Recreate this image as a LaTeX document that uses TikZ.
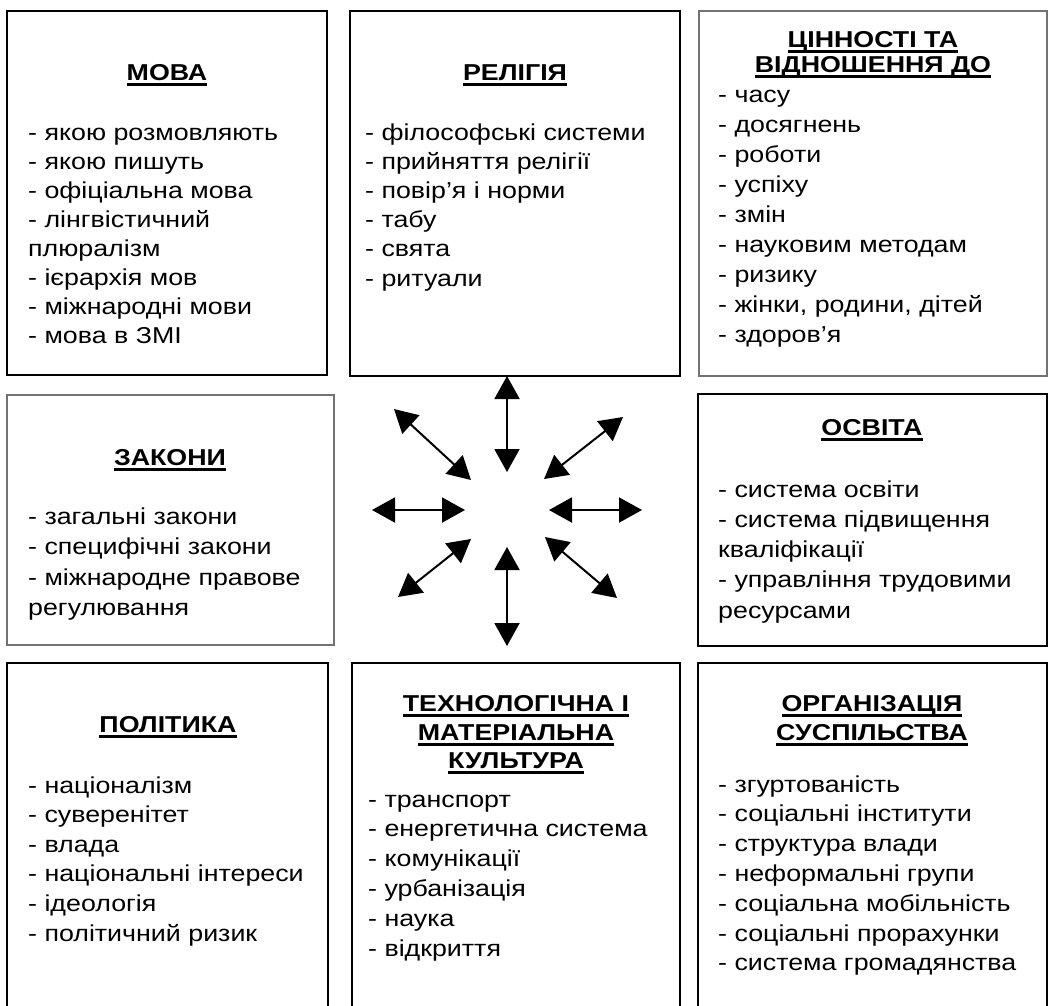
\documentclass[tikz,border=0pt]{standalone}
\usepackage{fontspec}
\setmainfont{Liberation Sans}[FakeStretch=1.165]
\usetikzlibrary{arrows.meta}

% underlined heading line
\newsavebox\hdbox
\newcommand\hdul[1]{\sbox\hdbox{#1}\rlap{\rule[-5.5pt]{\wd\hdbox}{2.2pt}}\usebox\hdbox}
% list of items: name, x, first baseline, line step, items
\newcommand\bodylist[5]{\foreach \itm [count=\i] in {#5} {\node[bodytext] (#1-\i) at (#2,{#3+#4*(\i-1)}) {\itm};}}

\begin{document}
\begin{tikzpicture}[x=1pt,y=-1pt,
  boxthick/.style={draw=black,line width=2.4pt,inner sep=0pt,outer sep=0pt,anchor=north west},
  boxthin/.style={draw=black!55,line width=1.1pt,inner sep=0pt,outer sep=0pt,anchor=north west},
  bodytext/.style={anchor=base west,inner sep=0pt,font=\fontsize{23}{28}\selectfont},
  headtext/.style={anchor=base,inner sep=0pt,font=\fontsize{23}{28}\selectfont\bfseries},
  dblarrow/.style={{Triangle[length=23pt,width=25pt]}-{Triangle[length=23pt,width=25pt]},line width=2pt}]
\clip (0,0) rectangle (1053,1005);
\fill[white] (0,0) rectangle (1053,1005);

% frames
\node[boxthick,minimum width=320pt,minimum height=364pt] (mova) at (7,11) {};
\node[boxthick,minimum width=330pt,minimum height=365pt] (rel) at (350,11) {};
\node[boxthin,minimum width=348pt,minimum height=365pt] (val) at (699,11) {};
\node[boxthin,minimum width=327pt,minimum height=250pt] (law) at (7,395) {};
\node[boxthick,minimum width=349pt,minimum height=252pt] (edu) at (698,394) {};
\node[boxthick,minimum width=321pt,minimum height=360pt] (pol) at (7,663) {};
\node[boxthick,minimum width=328pt,minimum height=360pt] (tech) at (352,663) {};
\node[boxthick,minimum width=349pt,minimum height=360pt] (org) at (698,663) {};

% language
\node[headtext] (mova-h) at (167,80) {\hdul{МОВА}};
\bodylist{mova}{28}{140}{29}{- якою розмовляють,- якою пишуть,- офіціальна мова,- лінгвістичний,плюралізм,- ієрархія мов,- міжнародні мови,- мова в ЗМІ}

% religion
\node[headtext] (rel-h) at (515,80) {\hdul{РЕЛІГІЯ}};
\bodylist{rel}{365}{140}{29.2}{- філософські системи,- прийняття релігії,- повір’я і норми,- табу,- свята,- ритуали}

% values
\node[headtext] (val-h1) at (873,47) {\hdul{ЦІННОСТІ ТА}};
\node[headtext] (val-h2) at (873,72) {\hdul{ВІДНОШЕННЯ ДО}};
\bodylist{val}{718}{102}{30.1}{- часу,- досягнень,- роботи,- успіху,- змін,- науковим методам,- ризику,{- жінки, родини, дітей},- здоров’я}

% laws
\node[headtext] (law-h) at (170,465) {\hdul{ЗАКОНИ}};
\bodylist{law}{28}{524}{30.5}{- загальні закони,- специфічні закони,- міжнародне правове,регулювання}

% education
\node[headtext] (edu-h) at (872,435) {\hdul{ОСВІТА}};
\bodylist{edu}{718}{497}{30.3}{- система освіти,- система підвищення,кваліфікації,- управління трудовими,ресурсами}

% politics
\node[headtext] (pol-h) at (168,732) {\hdul{ПОЛІТИКА}};
\bodylist{pol}{28}{793}{29.6}{- націоналізм,- суверенітет,- влада,- національні інтереси,- ідеологія,- політичний ризик}

% technology
\node[headtext] (tech-h1) at (516,711) {\hdul{ТЕХНОЛОГІЧНА І}};
\node[headtext] (tech-h2) at (516,740) {\hdul{МАТЕРІАЛЬНА}};
\node[headtext] (tech-h3) at (516,768) {\hdul{КУЛЬТУРА}};
\bodylist{tech}{368}{807}{29.8}{- транспорт,- енергетична система,- комунікації,- урбанізація,- наука,- відкриття}

% society
\node[headtext] (org-h1) at (872,711) {\hdul{ОРГАНІЗАЦІЯ}};
\node[headtext] (org-h2) at (872,740) {\hdul{СУСПІЛЬСТВА}};
\bodylist{org}{718}{792}{29.8}{- згуртованість,- соціальні інститути,- структура влади,- неформальні групи,- соціальна мобільність,- соціальні прорахунки,- система громадянства}

% central star of double arrows
\coordinate (n-out) at (507,376);  \coordinate (n-in) at (507,472);
\coordinate (s-in) at (507,547);   \coordinate (s-out) at (507,646);
\coordinate (w-out) at (372,510);  \coordinate (w-in) at (465,510);
\coordinate (e-in) at (549,510);   \coordinate (e-out) at (642,510);
\coordinate (nw-out) at (394,409); \coordinate (nw-in) at (471,480);
\coordinate (ne-out) at (623,417); \coordinate (ne-in) at (544,479);
\coordinate (sw-in) at (471,539);  \coordinate (sw-out) at (398,597);
\coordinate (se-in) at (545,537);  \coordinate (se-out) at (617,598);
\foreach \d in {n,s,w,e,nw,ne,sw,se}
  \draw[dblarrow] (\d-out) -- (\d-in);
\end{tikzpicture}
\end{document}
